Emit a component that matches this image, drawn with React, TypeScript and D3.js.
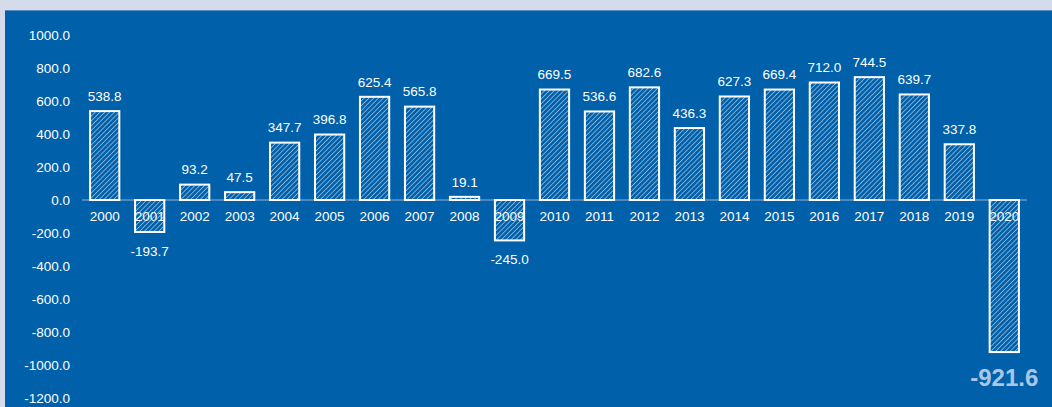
import React, { useEffect, useRef } from 'react';
import * as d3 from 'd3';

const years = ['2000', '2001', '2002', '2003', '2004', '2005', '2006', '2007', '2008', '2009', '2010',
  '2011', '2012', '2013', '2014', '2015', '2016', '2017', '2018', '2019', '2020'];
const values = [538.8, -193.7, 93.2, 47.5, 347.7, 396.8, 625.4, 565.8, 19.1, -245.0, 669.5,
  536.6, 682.6, 436.3, 627.3, 669.4, 712.0, 744.5, 639.7, 337.8, -921.6];
const yTicks = [1000, 800, 600, 400, 200, 0, -200, -400, -600, -800, -1000, -1200];

const App: React.FC = () => {
  const svgRef = useRef<SVGSVGElement>(null);

  useEffect(() => {
    if (!svgRef.current) return;
    const svg = d3.select(svgRef.current);
    svg.selectAll('*').remove();

    const W = 1052, H = 407;
    svg.attr('width', W).attr('height', H);

    // page and panel
    svg.append('rect').attr('width', W).attr('height', H).attr('fill', '#D5DBEA');
    svg.append('rect').attr('x', 5).attr('y', 10).attr('width', W - 5).attr('height', H - 10)
      .attr('fill', '#0060A9');
    svg.append('line').attr('x1', 5).attr('x2', W).attr('y1', 10.5).attr('y2', 10.5)
      .attr('stroke', '#5B8FC4').attr('stroke-width', 1);

    const defs = svg.append('defs');
    const pat = defs.append('pattern')
      .attr('id', 'hatch')
      .attr('patternUnits', 'userSpaceOnUse')
      .attr('width', 3.4).attr('height', 3.4)
      .attr('patternTransform', 'rotate(45)');
    pat.append('line').attr('x1', 0).attr('y1', 0).attr('x2', 0).attr('y2', 3.4)
      .attr('stroke', '#DCE8F4').attr('stroke-width', 1.1);

    const x = d3.scaleBand().domain(years).range([82, 1027]).paddingInner(0.35).paddingOuter(0.18);
    const y = d3.scaleLinear().domain([-1200, 1000]).range([398, 35]);

    const font = 'Liberation Sans, Arial, sans-serif';

    // y axis labels
    svg.append('g').selectAll('text').data(yTicks).join('text')
      .attr('x', 70).attr('y', d => y(d)).attr('dy', '0.35em')
      .attr('text-anchor', 'end').attr('font-family', font).attr('font-size', 13.5)
      .attr('fill', '#FFFFFF').text(d => d.toFixed(1));

    // category labels (below zero line, behind bars)
    svg.append('g').selectAll('text').data(years).join('text')
      .attr('x', d => (x(d) ?? 0) + x.bandwidth() / 2).attr('y', y(0) + 16)
      .attr('dy', '0.35em').attr('text-anchor', 'middle')
      .attr('font-family', font).attr('font-size', 13.5).attr('fill', '#FFFFFF')
      .text(d => d);

    // zero line
    svg.append('line').attr('x1', 82).attr('x2', 1027).attr('y1', y(0)).attr('y2', y(0))
      .attr('stroke', '#8FB3D9').attr('stroke-width', 1);

    // bars
    svg.append('g').selectAll('rect').data(values).join('rect')
      .attr('x', (d, i) => x(years[i]) ?? 0)
      .attr('y', d => y(Math.max(0, d)))
      .attr('width', x.bandwidth())
      .attr('height', d => Math.abs(y(d) - y(0)))
      .attr('fill', 'url(#hatch)')
      .attr('stroke', '#FFFFFF').attr('stroke-width', 2);

    // value labels
    svg.append('g').selectAll('text').data(values).join('text')
      .attr('x', (d, i) => (x(years[i]) ?? 0) + x.bandwidth() / 2)
      .attr('y', (d, i) => i === values.length - 1 ? y(d) + 26 : d >= 0 ? y(d) - 15 : y(d) + 19)
      .attr('dy', '0.35em').attr('text-anchor', 'middle')
      .attr('font-family', font)
      .attr('font-size', (d, i) => i === values.length - 1 ? 24 : 13.5)
      .attr('font-weight', (d, i) => i === values.length - 1 ? 'bold' : 'normal')
      .attr('fill', (d, i) => i === values.length - 1 ? '#A9C6E6' : '#FFFFFF')
      .text(d => d.toFixed(1));
  }, []);

  return <svg ref={svgRef} style={{ position: 'absolute', left: 0, top: 0 }} />;
};

export default App;
